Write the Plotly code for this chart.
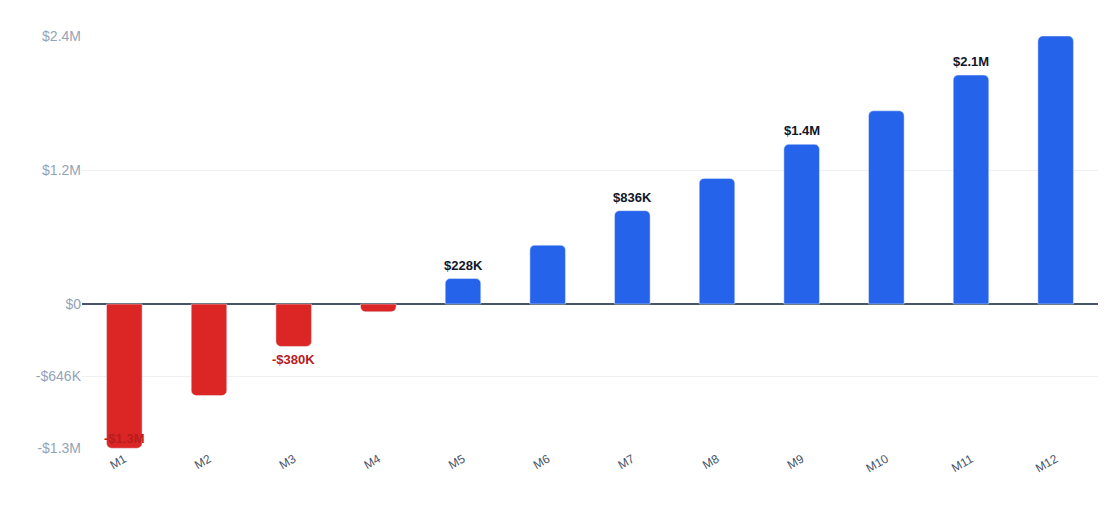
import plotly.graph_objects as go

months = ["M1", "M2", "M3", "M4", "M5", "M6", "M7", "M8", "M9", "M10", "M11", "M12"]
values = [-1292000, -820000, -380000, -70000, 228000, 527000, 836000, 1125000,
          1430000, 1730000, 2050000, 2400000]
labels = ["-$1.3M", "", "-$380K", "", "$228K", "", "$836K", "", "$1.4M", "", "$2.1M", ""]
tick_vals = [-1292000, -646000, 0, 1200000, 2400000]
tick_text = ["-$1.3M", "-$646K", "$0", "$1.2M", "$2.4M"]

RED = "#dc2626"
LABEL_RED = "#b91c1c"
BLUE = "#2563eb"

fig = go.Figure(go.Bar(
    x=months, y=values,
    marker=dict(color=[RED if v < 0 else BLUE for v in values], cornerradius=5),
    width=0.42,
    hoverinfo="skip",
))

ymin, ymax = min(values), max(values)
for m, v, t in zip(months, values, labels):
    if not t:
        continue
    if v >= 0:
        fig.add_annotation(x=m, y=v, text=f"<b>{t}</b>", showarrow=False,
                           yanchor="bottom", yshift=4, font=dict(color="#0f172a", size=13))
    elif v == ymin:
        # keep the label inside the plot area
        fig.add_annotation(x=m, y=v, text=f"<b>{t}</b>", showarrow=False,
                           yanchor="middle", yshift=10, font=dict(color=LABEL_RED, size=13))
    else:
        fig.add_annotation(x=m, y=v, text=f"<b>{t}</b>", showarrow=False,
                           yanchor="top", yshift=-4, font=dict(color=LABEL_RED, size=13))

fig.update_layout(
    width=1120, height=531,
    margin=dict(l=74, r=30, t=28, b=90),
    plot_bgcolor="white", paper_bgcolor="white",
    font=dict(family="Liberation Sans, Arial, sans-serif"),
    showlegend=False,
    bargap=0.5,
)
fig.update_yaxes(
    range=[ymin * 1.005, ymax], tickvals=tick_vals, ticktext=tick_text,
    gridcolor="#eef0f3", zeroline=True, zerolinecolor="#475569", zerolinewidth=1.5,
    tickfont=dict(color="#94a3b8", size=14), ticks="", showline=False,
)
fig.update_xaxes(
    tickangle=-30, tickfont=dict(color="#475569", size=12), showline=False, ticks="",
)

fig.write_html("out.html")
